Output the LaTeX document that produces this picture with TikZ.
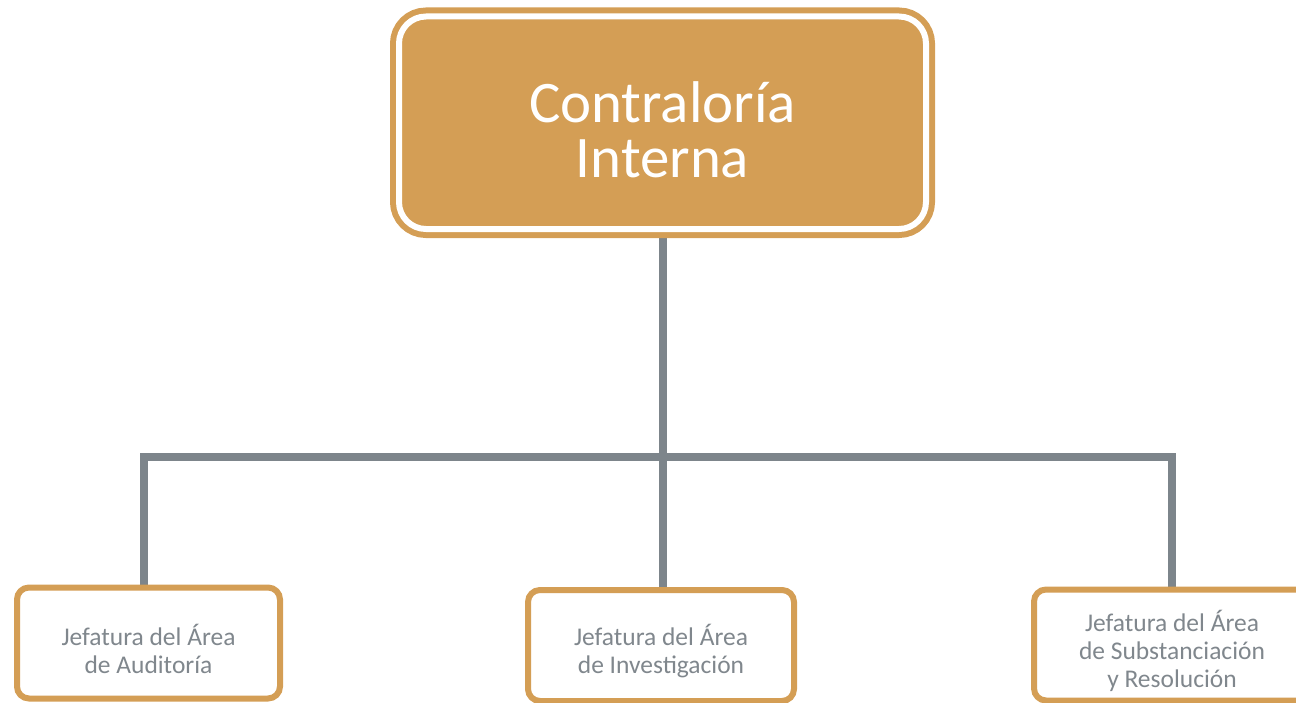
\documentclass[tikz,border=0pt]{standalone}
\usepackage{fontspec}
\setmainfont{Carlito}
\usepackage{tikz}
\usetikzlibrary{backgrounds}
\definecolor{dorado}{HTML}{D49E55}
\definecolor{gris}{HTML}{7D858B}
\definecolor{grisletra}{HTML}{80878D}
\newcommand{\bajatexto}[1]{\rule{0pt}{#1}}
\tikzstyle{cabeza} = [draw=dorado, double=white, double distance=0.12cm, line width=0.12cm, fill=dorado, rounded corners=0.54cm, minimum width=10.54cm, minimum height=4.25cm, text=white, align=center, font=\fontsize{33.5}{31.5}\selectfont]
\tikzstyle{area} = [draw=dorado, line width=0.12cm, fill=white, rounded corners=0.24cm, minimum height=2.22cm, text=grisletra, align=center, font=\fontsize{14.5}{15.8}\selectfont]
\tikzstyle{linea} = [draw=gris, line width=0.16cm, line join=miter]

\begin{document}
\begin{tikzpicture}
\useasboundingbox (0,0) rectangle (25.92,-14.06);

\node[cabeza] at (13.25,-2.455) (ci) {\bajatexto{1.1cm}Contraloría\\Interna};

\node[area, minimum width=5.26cm] at (2.97,-12.86) (auditoria) {\bajatexto{0.66cm}Jefatura del Área\\de Auditoría};
\node[area, minimum width=5.32cm] at (13.22,-12.91) (investigacion) {\bajatexto{0.66cm}Jefatura del Área\\de Investigación};
\node[area, minimum width=5.52cm] at (23.44,-12.9) (substanciacion) {\bajatexto{0.66cm}Jefatura del Área\\de Substanciación\\y Resolución};

\coordinate (ramaizq) at (2.88,-9.14);
\coordinate (ramader) at (23.44,-9.14);

\begin{scope}[on background layer]
\path[linea] (ci.south) -- (ci.south |- investigacion.north);
\path[linea] (auditoria.north -| ramaizq) -- (ramaizq) -- (ramader) -- (substanciacion.north -| ramader);
\end{scope}
\end{tikzpicture}
\end{document}
